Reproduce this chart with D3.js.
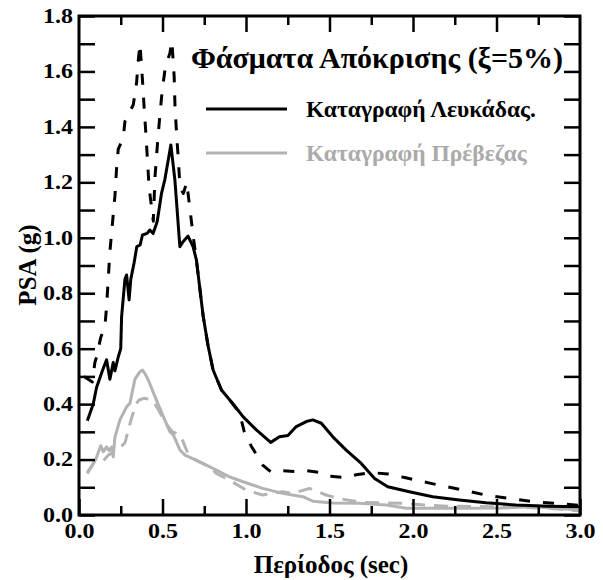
<!DOCTYPE html>
<html>
<head>
<meta charset="utf-8">
<script src="https://cdn.jsdelivr.net/npm/d3@7"></script>
<style>
  body { margin: 0; background: #fff; }
  svg text { font-family: "Liberation Serif", "Times New Roman", serif; font-weight: bold; }
</style>
</head>
<body>
<svg id="chart" width="603" height="580"></svg>
<script>
// spectra: period (sec) and PSA (g)
var lefkadaT = [0.05,0.085,0.105,0.14,0.165,0.185,0.205,0.215,0.235,0.25,0.255,0.275,0.285,0.30,0.31,0.33,0.346,0.366,0.38,0.408,0.424,0.444,0.468,0.494,0.514,0.55,0.574,0.604,0.623,0.653,0.683,0.703,0.743,0.773,0.803,0.853,0.903,0.943,0.982,1.062,1.148,1.20,1.251,1.301,1.361,1.40,1.451,1.52,1.60,1.69,1.77,1.849,1.978,2.118,2.277,2.437,2.616,2.815,3.0];
var lefkadaPSA = [0.34,0.40,0.46,0.52,0.56,0.49,0.55,0.52,0.57,0.60,0.715,0.85,0.866,0.776,0.85,0.91,0.968,0.974,1.01,1.016,1.028,1.016,1.058,1.16,1.21,1.335,1.21,0.968,0.986,1.006,0.968,0.92,0.72,0.61,0.523,0.451,0.415,0.385,0.355,0.307,0.262,0.282,0.287,0.319,0.337,0.343,0.331,0.282,0.234,0.186,0.132,0.102,0.084,0.066,0.054,0.044,0.036,0.032,0.03];

var lefkada2T = [0.03,0.08,0.095,0.105,0.13,0.155,0.165,0.175,0.185,0.20,0.215,0.225,0.235,0.265,0.275,0.30,0.325,0.345,0.355,0.365,0.38,0.39,0.40,0.41,0.42,0.445,0.455,0.47,0.484,0.498,0.518,0.544,0.556,0.57,0.575,0.585,0.595,0.605,0.625,0.645,0.665,0.685,0.703,0.743,0.773,0.803,0.853,0.903,0.96,0.99,1.03,1.06,1.10,1.15,1.20,1.30,1.36,1.45,1.50,1.60,1.66,1.75,1.85,1.95,2.10,2.30,2.45,2.60,2.75,2.90,3.0];
var lefkada2PSA = [0.50,0.48,0.55,0.57,0.64,0.68,0.75,0.85,0.95,1.05,1.15,1.25,1.32,1.36,1.42,1.45,1.48,1.56,1.64,1.70,1.57,1.47,1.38,1.28,1.18,1.06,1.22,1.34,1.44,1.53,1.62,1.665,1.71,1.58,1.47,1.37,1.28,1.18,1.16,1.20,1.10,1.00,0.92,0.72,0.61,0.523,0.451,0.415,0.37,0.30,0.25,0.22,0.18,0.155,0.16,0.157,0.16,0.153,0.14,0.135,0.145,0.153,0.148,0.135,0.115,0.09,0.07,0.058,0.046,0.04,0.035];

var prevezaT = [0.05,0.075,0.10,0.13,0.145,0.165,0.18,0.195,0.205,0.215,0.245,0.285,0.305,0.335,0.365,0.38,0.395,0.415,0.455,0.505,0.545,0.565,0.605,0.635,0.742,0.823,0.90,0.982,1.10,1.22,1.34,1.40,1.52,1.68,1.84,1.96,2.30,2.52,2.72,3.0];
var prevezaPSA = [0.155,0.175,0.20,0.25,0.228,0.246,0.232,0.245,0.21,0.28,0.343,0.39,0.403,0.49,0.517,0.523,0.51,0.487,0.427,0.355,0.30,0.289,0.234,0.216,0.186,0.162,0.138,0.12,0.096,0.078,0.066,0.05,0.043,0.042,0.036,0.024,0.024,0.025,0.03,0.018];

var preveza2T = [0.05,0.09,0.145,0.175,0.22,0.275,0.31,0.34,0.36,0.39,0.44,0.475,0.52,0.56,0.58,0.615,0.625,0.65,0.70,0.78,0.823,0.90,1.00,1.10,1.22,1.28,1.38,1.48,1.55,1.70,1.95,2.07,2.20,2.50,2.80,3.0];
var preveza2PSA = [0.15,0.19,0.195,0.216,0.23,0.26,0.34,0.40,0.415,0.421,0.415,0.38,0.33,0.30,0.295,0.28,0.262,0.225,0.198,0.174,0.15,0.126,0.09,0.072,0.084,0.078,0.096,0.072,0.06,0.045,0.042,0.036,0.032,0.03,0.025,0.015];

var xMajor = [0,0.5,1,1.5,2,2.5,3];
var xMinor = [0.25,0.75,1.25,1.75,2.25,2.75];
var yTicks = d3.range(0, 19).map(function(i){ return i / 10; });
var yLabels = [0,0.2,0.4,0.6,0.8,1.0,1.2,1.4,1.6,1.8];

var legendNames = ["Καταγραφή Λευκάδας.", "Καταγραφή Πρέβεζας"];
var GREY = "#b3b3b3";

var padL = 79, padR = 580, padT = 16, padB = 515;

var svg = d3.select("#chart");

var x = d3.scaleLinear().domain([0,3]).range([padL,padR]);
var y = d3.scaleLinear().domain([0,1.8]).range([padB,padT]);

svg.append("clipPath").attr("id","plotClip")
  .append("rect").attr("x",padL).attr("y",padT).attr("width",padR-padL).attr("height",padB-padT);

function pairs(t, v){
  return t.map(function(d,i){ return [d, v[i]]; });
}

var line = d3.line()
  .x(function(d){ return x(d[0]); })
  .y(function(d){ return y(d[1]); });

var series = [
  {data: pairs(preveza2T, preveza2PSA), color: GREY, dash: "14,9"},
  {data: pairs(prevezaT, prevezaPSA), color: GREY, dash: null},
  {data: pairs(lefkada2T, lefkada2PSA), color: "#000", dash: "11,13"},
  {data: pairs(lefkadaT, lefkadaPSA), color: "#000", dash: null}
];

var g = svg.append("g").attr("clip-path","url(#plotClip)");
series.forEach(function(s){
  g.append("path")
    .attr("d", line(s.data))
    .attr("fill","none")
    .attr("stroke", s.color)
    .attr("stroke-width", 3)
    .attr("stroke-linejoin","round")
    .attr("stroke-dasharray", s.dash);
});

// axes, ticks pointing inwards; tick labels are drawn a bit wide
function styleAxis(sel){
  sel.select(".domain").remove();
  sel.selectAll(".tick line").attr("stroke","#000").attr("stroke-width",2.5);
  sel.selectAll(".tick text").attr("fill","#000").style("font-size","20px")
    .attr("transform","scale(1.2,1)");
}

svg.append("g").attr("transform","translate(0,"+padB+")")
  .call(d3.axisBottom(x).tickValues(xMinor).tickSize(-9).tickFormat(""))
  .call(styleAxis);
svg.append("g").attr("transform","translate(0,"+padB+")")
  .call(d3.axisBottom(x).tickValues(xMajor).tickSize(-16).tickPadding(9).tickFormat(d3.format(".1f")))
  .call(styleAxis);

svg.append("g").attr("transform","translate(0,"+padT+")")
  .call(d3.axisTop(x).tickValues(xMinor).tickSize(-9).tickFormat(""))
  .call(styleAxis);
svg.append("g").attr("transform","translate(0,"+padT+")")
  .call(d3.axisTop(x).tickValues(xMajor.slice(1,-1)).tickSize(-16).tickFormat(""))
  .call(styleAxis);

svg.append("g").attr("transform","translate("+padL+",0)")
  .call(d3.axisLeft(y).tickValues(yTicks).tickSize(-16).tickPadding(5)
    .tickFormat(function(d){ return yLabels.some(function(l){ return Math.abs(l-d) < 1e-6; }) ? d.toFixed(1) : ""; }))
  .call(styleAxis);

svg.append("g").attr("transform","translate("+padR+",0)")
  .call(d3.axisRight(y).tickValues(yTicks).tickSize(-16).tickFormat(""))
  .call(styleAxis);

svg.append("rect")
  .attr("x",padL).attr("y",padT).attr("width",padR-padL).attr("height",padB-padT)
  .attr("fill","none").attr("stroke","#000").attr("stroke-width",3);

// titles
svg.append("text").attr("x",331).attr("y",573)
  .attr("text-anchor","middle").style("font-size","25px")
  .text("Περίοδος (sec)");

svg.append("text").attr("transform","translate(36,265) rotate(-90)")
  .attr("text-anchor","middle").style("font-size","25px")
  .text("PSA (g)");

svg.append("text").attr("x",377).attr("y",68)
  .attr("text-anchor","middle").style("font-size","30px")
  .text("Φάσματα Απόκρισης (ξ=5%)");

// legend
var legend = svg.append("g");
[{c:"#000", t:legendNames[0], yy:109}, {c:GREY, t:legendNames[1], yy:153}].forEach(function(d, i){
  legend.append("line").attr("x1",206).attr("x2",287).attr("y1",d.yy).attr("y2",d.yy)
    .attr("stroke",d.c).attr("stroke-width",3);
  legend.append("text").attr("x",306).attr("y",d.yy+8)
    .style("font-size","23.5px").attr("fill", i === 0 ? "#000" : "#aaaaaa")
    .text(d.t);
});
</script>
</body>
</html>
